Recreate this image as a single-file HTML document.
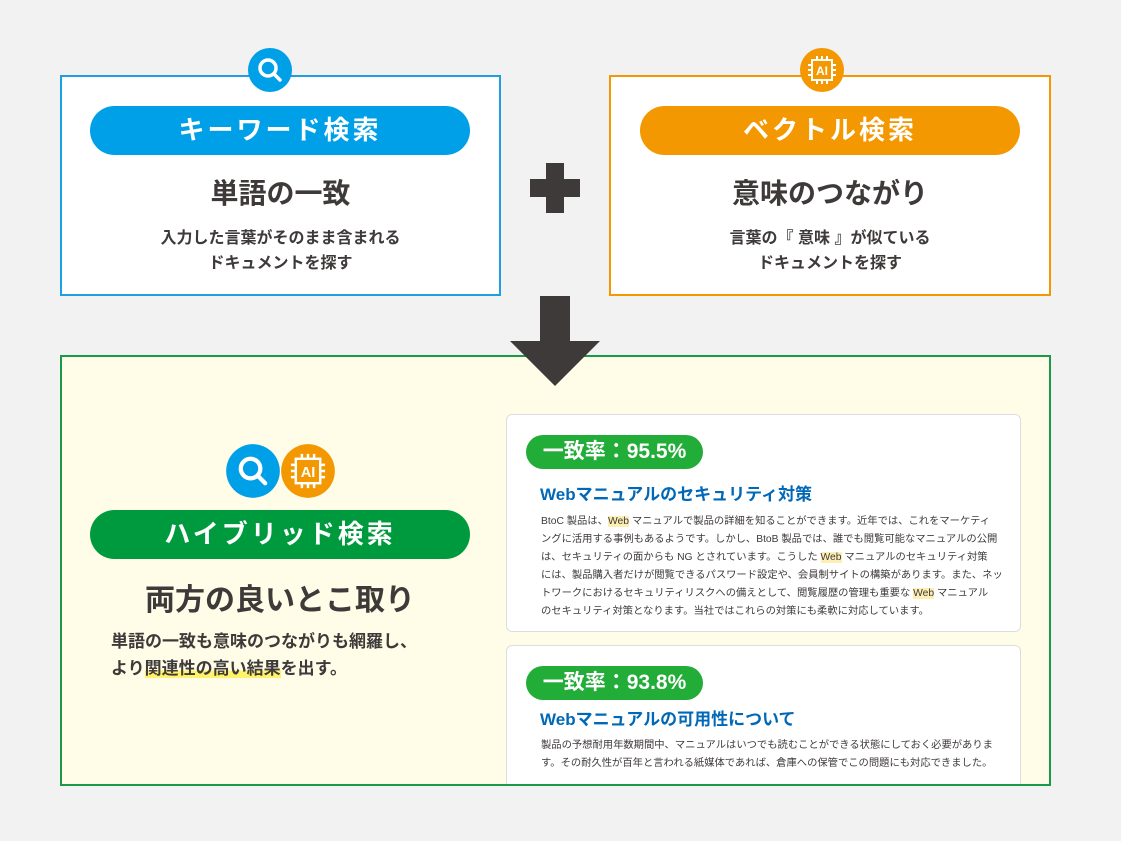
<!DOCTYPE html>
<html><head><meta charset="utf-8"><style>
*{margin:0;padding:0;box-sizing:border-box}
body{width:1121px;height:841px;background:#f2f2f2;position:relative;overflow:hidden;font-family:"Liberation Sans","Noto Sans CJK JP",sans-serif;color:#3e3a39}
.abs{position:absolute}
.box{position:absolute;background:#fff;border:2px solid}
.pill{position:absolute;border-radius:25px;color:#fff;font-weight:bold;font-size:26px;text-align:center;letter-spacing:3px}
.c{position:absolute;text-align:center;font-weight:bold}
.circle{position:absolute;border-radius:50%}
.card{position:absolute;background:#fff;border:1px solid #ddd;border-radius:6px;left:506px;width:515px}
.badge{position:absolute;left:19px;width:177px;height:34px;border-radius:17px;background:#22ac38;color:#fff;font-weight:bold;font-size:21px;line-height:34px;text-align:center}
.ttl{position:absolute;left:33px;color:#0068b7;font-weight:bold;font-size:17px}
.bd{position:absolute;left:34px;font-size:10.3px;line-height:18px;color:#3e3a39;white-space:nowrap}
.hl{background:#fdeeb4}
</style></head><body>
<div class="box" style="left:60px;top:75px;width:441px;height:221px;border-color:#1ea0e0"></div>
<div class="pill" style="left:90px;top:106px;width:380px;height:49px;line-height:49px;background:#00a0e9">キーワード検索</div>
<div class="c" style="left:60px;width:441px;top:172px;font-size:28px">単語の一致</div>
<div class="c" style="left:60px;width:441px;top:226px;font-size:16px;line-height:25px;font-weight:600">入力した言葉がそのまま含まれる<br>ドキュメントを探す</div>

<div class="box" style="left:609px;top:75px;width:442px;height:221px;border-color:#f39800"></div>
<div class="pill" style="left:640px;top:106px;width:380px;height:49px;line-height:49px;background:#f39800">ベクトル検索</div>
<div class="c" style="left:609px;width:442px;top:172px;font-size:28px">意味のつながり</div>
<div class="c" style="left:609px;width:442px;top:226px;font-size:16px;line-height:25px;font-weight:600">言葉の『 意味 』が似ている<br>ドキュメントを探す</div>

<svg class="abs" style="left:0;top:0" width="1121" height="841">
<rect x="546" y="163" width="18" height="50" fill="#3e3a39"/><rect x="530" y="179" width="50" height="18" fill="#3e3a39"/>
</svg>

<div class="box" style="left:60px;top:355px;width:991px;height:431px;border-color:#1a9a48;background:#fffde8"></div>
<svg class="abs" style="left:0;top:0" width="1121" height="841">
<rect x="540" y="296" width="30" height="48" fill="#3e3a39"/><polygon points="510,341 600,341 555,386" fill="#3e3a39"/>
<defs>
<g id="srch"><circle cx="0" cy="0" r="22" fill="#00a0e9"/><circle cx="-2" cy="-2" r="8" fill="none" stroke="#fff" stroke-width="3.5"/><line x1="4" y1="4" x2="10" y2="10" stroke="#fff" stroke-width="3.5" stroke-linecap="round"/></g>
<g id="ai"><circle cx="0" cy="0" r="22" fill="#f39800"/><rect x="-10" y="-10" width="20" height="20" fill="none" stroke="#fff" stroke-width="2"/>
<text x="0" y="5" font-size="12" font-weight="bold" fill="#fff" text-anchor="middle" font-family="Liberation Sans">AI</text>
<path d="M-5,-10v-4M0,-10v-4M5,-10v-4M-5,10v4M0,10v4M5,10v4M-10,-5h-4M-10,0h-4M-10,5h-4M10,-5h4M10,0h4M10,5h4" stroke="#fff" stroke-width="2"/></g>
</defs>
<use href="#srch" x="270" y="70"/><use href="#ai" x="822" y="70"/>
<g transform="translate(253,471) scale(1.22)"><use href="#srch"/></g>
<g transform="translate(308,471) scale(1.22)"><use href="#ai"/></g>
</svg>
<div class="pill" style="left:90px;top:510px;width:380px;height:49px;line-height:49px;background:#009a3e">ハイブリッド検索</div>
<div class="c" style="left:60px;width:440px;top:575px;font-size:30px">両方の良いとこ取り</div>
<div class="abs" style="left:111px;top:628px;font-size:17px;line-height:27px;font-weight:bold">単語の一致も意味のつながりも網羅し、<br>より<span style="background:linear-gradient(transparent 60%,#fff36b 60%)">関連性の高い結果</span>を出す。</div>

<div class="card" style="top:414px;height:218px">
<div class="badge" style="top:20px">一致率：95.5%</div>
<div class="ttl" style="top:65px">Webマニュアルのセキュリティ対策</div>
<div class="bd" style="top:98px">BtoC 製品は、<span class="hl">Web</span> マニュアルで製品の詳細を知ることができます。近年では、これをマーケティ<br>ングに活用する事例もあるようです。しかし、BtoB 製品では、誰でも閲覧可能なマニュアルの公開<br>は、セキュリティの面からも NG とされています。こうした <span class="hl">Web</span> マニュアルのセキュリティ対策<br>には、製品購入者だけが閲覧できるパスワード設定や、会員制サイトの構築があります。また、ネッ<br>トワークにおけるセキュリティリスクへの備えとして、閲覧履歴の管理も重要な <span class="hl">Web</span> マニュアル<br>のセキュリティ対策となります。当社ではこれらの対策にも柔軟に対応しています。</div>
</div>
<div class="card" style="top:645px;height:139px;border-bottom:none;border-radius:6px 6px 0 0">
<div class="badge" style="top:20px">一致率：93.8%</div>
<div class="ttl" style="top:59px">Webマニュアルの可用性について</div>
<div class="bd" style="top:91px">製品の予想耐用年数期間中、マニュアルはいつでも読むことができる状態にしておく必要がありま<br>す。その耐久性が百年と言われる紙媒体であれば、倉庫への保管でこの問題にも対応できました。</div>
</div>
</body></html>
